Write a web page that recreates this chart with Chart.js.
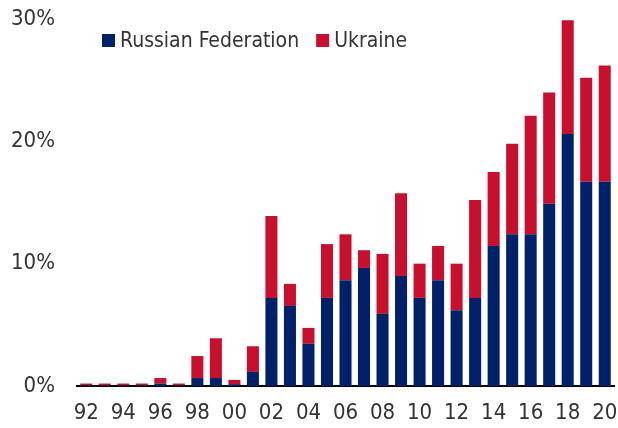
<!DOCTYPE html>
<html>
<head>
<meta charset="utf-8">
<script src="https://cdn.jsdelivr.net/npm/chart.js@4"></script>
<style>
  html, body { margin: 0; padding: 0; background: #fff; }
  #wrap { width: 618px; height: 428px; }
</style>
</head>
<body>
<div id="wrap"><canvas id="chart"></canvas></div>
<script>
const years = ['92','93','94','95','96','97','98','99','00','01','02','03','04','05','06',
               '07','08','09','10','11','12','13','14','15','16','17','18','19','20'];
// share held by Russian Federation (%)
const russia = [0.05, 0.05, 0.05, 0.05, 0.2, 0.05, 0.65, 0.65, 0.15, 1.15, 7.2, 6.55, 3.45, 7.2, 8.65,
                9.65, 5.9, 9.0, 7.2, 8.65, 6.2, 7.2, 11.45, 12.4, 12.4, 14.9, 20.6, 16.7, 16.7];
// share held by Ukraine (%), stacked on top
const ukraine = [0.15, 0.15, 0.15, 0.15, 0.45, 0.15, 1.8, 3.25, 0.35, 2.1, 6.7, 1.8, 1.3, 4.4, 3.75,
                 1.45, 4.9, 6.75, 2.8, 2.8, 3.8, 8.0, 6.05, 7.4, 9.7, 9.1, 9.3, 8.5, 9.5];

const NAVY = '#002169';
const RED = '#c8102e';
const FONT = '"DejaVu Sans Condensed", "DejaVu Sans", sans-serif';

const legendInside = {
    id: 'legendInside',
    afterDraw(chart) {
        const ctx = chart.ctx;
        ctx.save();
        ctx.font = '21px ' + FONT;
        ctx.textBaseline = 'alphabetic';
        let x = 102;
        chart.data.datasets.forEach(ds => {
            ctx.fillStyle = ds.backgroundColor;
            ctx.fillRect(x, 34, 13, 13);
            ctx.fillStyle = '#333';
            ctx.fillText(ds.label, x + 18, 47);
            x += 18 + ctx.measureText(ds.label).width + 17;
        });
        ctx.restore();
    }
};

new Chart(document.getElementById('chart'), {
    type: 'bar',
    data: {
        labels: years,
        datasets: [
            { label: 'Russian Federation', data: russia, backgroundColor: NAVY,
              categoryPercentage: 1, barPercentage: 0.65 },
            { label: 'Ukraine', data: ukraine, backgroundColor: RED,
              categoryPercentage: 1, barPercentage: 0.65 }
        ]
    },
    options: {
        responsive: true,
        maintainAspectRatio: false,
        animation: false,
        layout: { padding: { top: 19, right: 4, left: 0, bottom: 0 } },
        plugins: {
            legend: { display: false },
            tooltip: { enabled: false }
        },
        scales: {
            x: {
                stacked: true,
                grid: { display: false, drawTicks: false },
                border: { display: true, color: '#000', width: 2 },
                ticks: {
                    autoSkip: false,
                    maxRotation: 0,
                    padding: 14,
                    color: '#333',
                    font: { family: FONT, size: 22 },
                    callback: (v, i) => i % 2 === 0 ? years[i] : ''
                },
                afterFit: s => { s.height = 42; s.paddingLeft = 0; s.paddingRight = 0; }
            },
            y: {
                stacked: true,
                min: 0,
                max: 30,
                grid: { display: false, drawTicks: false },
                border: { display: false },
                ticks: {
                    stepSize: 10,
                    padding: 22,
                    color: '#333',
                    font: { family: FONT, size: 22 },
                    callback: v => v + '%'
                },
                afterFit: s => { s.width = 77; s.paddingTop = 0; s.paddingBottom = 0; }
            }
        }
    },
    plugins: [legendInside]
});
</script>
</body>
</html>
